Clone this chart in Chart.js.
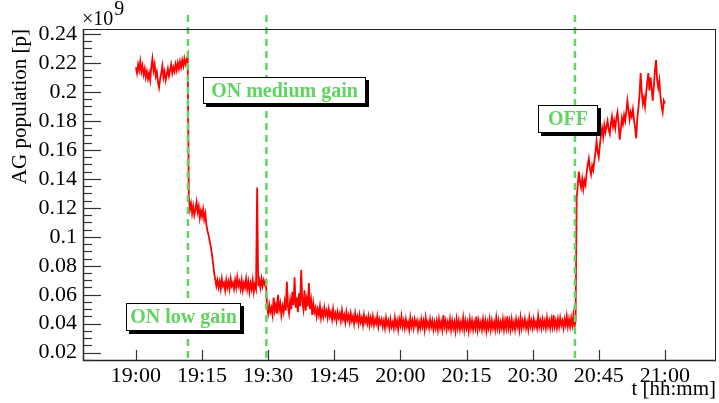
<!DOCTYPE html>
<html>
<head>
<meta charset="utf-8">
<title>AG population</title>
<script src="https://cdn.jsdelivr.net/npm/chart.js@4"></script>
<style>
    html, body { margin: 0; padding: 0; background: #fff; }
</style>
</head>
<body>
<canvas id="ag-chart" width="719" height="403"></canvas>
<script>
(function () {
    'use strict';

    /* ── Samples: AG population in units of 1e9 p, one every 15 s (minutes after 19:00) ── */
    var stepMin = 0.25;

    var preOnStart = 0;
    var preOnValues = [
        0.217, 0.213, 0.219, 0.215, 0.221, 0.214, 0.218, 0.212, 0.216, 0.210,
        0.214, 0.209, 0.213, 0.208, 0.217, 0.223, 0.215, 0.219, 0.211, 0.214,
        0.207, 0.203, 0.209, 0.213, 0.218, 0.210, 0.214, 0.208, 0.212, 0.216,
        0.211, 0.215, 0.219, 0.213, 0.217, 0.214, 0.219, 0.215, 0.220, 0.216,
        0.221, 0.217, 0.222, 0.218, 0.223, 0.219, 0.222, 0.225
    ];

    var lowGainStart = 12;
    var lowGainValues = [
        0.128, 0.119, 0.123, 0.116, 0.121, 0.115, 0.119, 0.124, 0.117, 0.121,
        0.113, 0.118, 0.114, 0.119, 0.112, 0.116, 0.108, 0.104, 0.101, 0.097,
        0.093, 0.088, 0.082, 0.075, 0.071, 0.066, 0.070, 0.065, 0.069, 0.064,
        0.071, 0.066, 0.068, 0.063, 0.070, 0.065, 0.069, 0.064, 0.071, 0.066,
        0.068, 0.064, 0.070, 0.065, 0.072, 0.066, 0.069, 0.064, 0.070, 0.063,
        0.068, 0.065, 0.071, 0.064, 0.069, 0.062, 0.068, 0.064, 0.070, 0.062,
        0.067, 0.064, 0.134, 0.066, 0.070, 0.065, 0.071, 0.066, 0.070, 0.067,
        0.069
    ];

    var mediumGainStart = 29.75;
    var mediumGainValues = [
        0.052, 0.047, 0.053, 0.048, 0.051, 0.046, 0.058, 0.049, 0.053, 0.047,
        0.060, 0.050, 0.054, 0.046, 0.052, 0.048, 0.055, 0.049, 0.069, 0.052,
        0.047, 0.056, 0.050, 0.062, 0.053, 0.072, 0.051, 0.058, 0.048, 0.061,
        0.052, 0.077, 0.055, 0.050, 0.063, 0.049, 0.057, 0.052, 0.068, 0.050,
        0.056, 0.046, 0.054, 0.048,
        0.051, 0.045, 0.050, 0.046, 0.052, 0.044, 0.049, 0.045, 0.051, 0.046,
        0.049, 0.044, 0.050, 0.045, 0.048, 0.043, 0.050, 0.044, 0.047, 0.042,
        0.048, 0.044, 0.047, 0.042, 0.049, 0.043, 0.046, 0.041, 0.048, 0.043,
        0.046, 0.041, 0.047, 0.042, 0.045, 0.040, 0.047, 0.042, 0.045, 0.040,
        0.046, 0.041, 0.044, 0.039, 0.046, 0.041, 0.044, 0.040, 0.045, 0.039,
        0.044, 0.040, 0.045, 0.039, 0.043, 0.040, 0.045, 0.038, 0.043, 0.040,
        0.043, 0.038, 0.042, 0.037, 0.044, 0.039, 0.042, 0.037, 0.043, 0.038,
        0.041, 0.037, 0.044, 0.038, 0.042, 0.036, 0.043, 0.039, 0.045, 0.038,
        0.042, 0.037, 0.043, 0.038, 0.041, 0.036, 0.044, 0.038, 0.042, 0.037,
        0.043, 0.039, 0.042, 0.036, 0.041, 0.037, 0.043, 0.038, 0.042, 0.036,
        0.044, 0.038, 0.041, 0.037, 0.043, 0.038, 0.042, 0.036, 0.041, 0.037,
        0.042, 0.036, 0.043, 0.037, 0.041, 0.036, 0.046, 0.038, 0.042, 0.036,
        0.041, 0.037, 0.043, 0.036, 0.042, 0.037, 0.041, 0.035, 0.043, 0.037,
        0.042, 0.036, 0.041, 0.037, 0.044, 0.036, 0.042, 0.037, 0.041, 0.035,
        0.043, 0.037, 0.042, 0.036, 0.041, 0.037, 0.045, 0.036, 0.042, 0.037,
        0.041, 0.036, 0.043, 0.037, 0.042, 0.035, 0.041, 0.037, 0.043, 0.036,
        0.042, 0.037, 0.041, 0.036, 0.044, 0.037, 0.042, 0.036, 0.041, 0.037,
        0.043, 0.036, 0.042, 0.037, 0.045, 0.037, 0.042, 0.036, 0.043, 0.037,
        0.041, 0.036, 0.043, 0.038, 0.042, 0.036, 0.044, 0.037, 0.042, 0.038,
        0.043, 0.037, 0.041, 0.036, 0.044, 0.038, 0.042, 0.037, 0.043, 0.038,
        0.041, 0.037, 0.045, 0.038, 0.042, 0.037, 0.043, 0.038, 0.042, 0.037,
        0.044, 0.038, 0.042, 0.037, 0.043, 0.038, 0.046, 0.038, 0.042, 0.037,
        0.043, 0.038, 0.044, 0.039, 0.042, 0.037, 0.043, 0.039, 0.045, 0.038,
        0.043, 0.038, 0.044, 0.039, 0.046, 0.038, 0.042
    ];

    var offStart = 100;
    var offValues = [
        0.127, 0.136, 0.145, 0.138, 0.134, 0.140, 0.133, 0.139, 0.136, 0.144,
        0.150, 0.154, 0.147, 0.143, 0.149, 0.146, 0.152, 0.158, 0.166, 0.159,
        0.155, 0.163, 0.170, 0.175, 0.169, 0.177, 0.172, 0.176, 0.180, 0.174,
        0.171, 0.178, 0.183, 0.176, 0.180, 0.175, 0.182, 0.186, 0.178, 0.167,
        0.174, 0.182, 0.178, 0.184, 0.180, 0.186, 0.194, 0.188, 0.181, 0.186,
        0.183, 0.188, 0.181, 0.175, 0.168, 0.182, 0.189, 0.198, 0.213, 0.200,
        0.192, 0.196, 0.190, 0.199, 0.207, 0.213, 0.201, 0.210, 0.203, 0.194,
        0.204, 0.215, 0.222, 0.208, 0.203, 0.208, 0.197, 0.190, 0.186, 0.194,
        0.192
    ];

    /* ── Gain switching times (minutes after 19:00) ── */
    var switchTimes = [11.8, 29.6, 99.6];

    /* ── Axis ticks ── */
    var timeTicks = [0, 15, 30, 45, 60, 75, 90, 105, 120];
    var timeTickLabels = ['19:00', '19:15', '19:30', '19:45', '20:00', '20:15', '20:30', '20:45', '21:00'];
    var popTicks = [0.02, 0.04, 0.06, 0.08, 0.1, 0.12, 0.14, 0.16, 0.18, 0.2, 0.22, 0.24];

    /* ── Label panes, corners given in axis units ── */
    var panes = [
        { text: 'ON low gain',    x0: -2.27, x1: 23.82, y0: 0.0543, y1: 0.0350 },
        { text: 'ON medium gain', x0: 15.2,  x1: 52.18, y0: 0.2103, y1: 0.1917 },
        { text: 'OFF',            x0: 91.2,  x1: 104.8, y0: 0.1910, y1: 0.1717 }
    ];

    var serif = '"Liberation Serif", "Times New Roman", serif';
    var green = 'rgb(96, 212, 96)';

    function toPoints(start, values) {
        return values.map(function (v, i) { return { x: start + i * stepMin, y: v }; });
    }

    var points = []
        .concat(toPoints(preOnStart, preOnValues))
        .concat(toPoints(lowGainStart, lowGainValues))
        .concat(toPoints(mediumGainStart, mediumGainValues))
        .concat(toPoints(offStart, offValues));

    /* ── ROOT-like frame, inward ticks, switch markers and panes ── */
    var rootFrame = {
        id: 'rootFrame',
        afterDatasetsDraw: function (chart) {
            var ctx = chart.ctx;
            var area = chart.chartArea;
            var xs = chart.scales.x;
            var ys = chart.scales.y;

            ctx.save();

            // dashed switch markers
            ctx.strokeStyle = green;
            ctx.lineWidth = 2.5;
            ctx.setLineDash([7, 5]);
            switchTimes.forEach(function (t) {
                var px = xs.getPixelForValue(t);
                ctx.beginPath();
                ctx.moveTo(px, area.top - 14);
                ctx.lineTo(px, area.bottom);
                ctx.stroke();
            });
            ctx.setLineDash([]);

            // frame
            ctx.strokeStyle = '#222';
            ctx.lineWidth = 1;
            ctx.strokeRect(area.left + 0.5, area.top + 0.5, area.right - area.left - 1, area.bottom - area.top);
            ctx.lineWidth = 1.5;
            ctx.beginPath();
            ctx.moveTo(area.left + 0.5, area.top);
            ctx.lineTo(area.left + 0.5, area.bottom + 0.5);
            ctx.lineTo(area.right, area.bottom + 0.5);
            ctx.stroke();

            // y ticks, major and minor, pointing inward
            ctx.lineWidth = 1.2;
            ctx.strokeStyle = '#333';
            for (var m = 3; m <= 48; m++) {
                var v = m * 0.005;
                if (v < ys.min || v > ys.max) continue;
                var py = Math.round(ys.getPixelForValue(v)) + 0.5;
                var len = (m % 4 === 0) ? 18 : 9;
                ctx.beginPath();
                ctx.moveTo(area.left, py);
                ctx.lineTo(area.left + len, py);
                ctx.stroke();
            }

            // x ticks
            timeTicks.forEach(function (t) {
                var px = Math.round(xs.getPixelForValue(t)) + 0.5;
                ctx.beginPath();
                ctx.moveTo(px, area.bottom);
                ctx.lineTo(px, area.bottom - 10);
                ctx.stroke();
            });

            // label panes with shadow
            ctx.font = 'bold 20px ' + serif;
            ctx.textAlign = 'center';
            ctx.textBaseline = 'middle';
            panes.forEach(function (p) {
                var l = Math.round(xs.getPixelForValue(p.x0));
                var r = Math.round(xs.getPixelForValue(p.x1));
                var t = Math.round(ys.getPixelForValue(p.y0));
                var b = Math.round(ys.getPixelForValue(p.y1));
                ctx.fillStyle = '#000';
                ctx.fillRect(l + 3, t + 3, r - l, b - t);
                ctx.fillStyle = '#fff';
                ctx.fillRect(l, t, r - l, b - t);
                ctx.strokeStyle = '#000';
                ctx.lineWidth = 1;
                ctx.strokeRect(l + 0.5, t + 0.5, r - l - 1, b - t - 1);
                ctx.fillStyle = green;
                ctx.fillText(p.text, (l + r) / 2, (t + b) / 2 + 1);
            });

            // exponent of the y axis
            ctx.fillStyle = '#000';
            ctx.textAlign = 'left';
            ctx.textBaseline = 'alphabetic';
            ctx.font = '20px ' + serif;
            ctx.fillText('\u00d710', area.left - 1, 25);
            var w = ctx.measureText('\u00d710').width;
            ctx.fillText('9', area.left + w, 15);

            ctx.restore();
        }
    };

    var tickFont = { family: serif, size: 22 };

    new Chart(document.getElementById('ag-chart'), {
        type: 'line',
        data: {
            datasets: [{
                label: 'AG population',
                data: points,
                borderColor: '#ff0000',
                borderWidth: 1.8,
                pointRadius: 0,
                tension: 0,
                fill: false
            }]
        },
        options: {
            responsive: false,
            animation: false,
            devicePixelRatio: 1,
            layout: { padding: { top: 29, right: 3, bottom: 0, left: 0 } },
            plugins: {
                legend: { display: false },
                tooltip: { enabled: false }
            },
            scales: {
                x: {
                    type: 'linear',
                    min: -12,
                    max: 131.6,
                    bounds: 'data',
                    afterFit: function (scale) { scale.height = 43; },
                    afterBuildTicks: function (scale) {
                        scale.ticks = timeTicks.map(function (t) { return { value: t }; });
                    },
                    grid: { display: false, drawTicks: false },
                    border: { display: false },
                    ticks: {
                        autoSkip: false,
                        maxRotation: 0,
                        padding: 3,
                        color: '#000',
                        font: tickFont,
                        callback: function (value, index) { return timeTickLabels[index]; }
                    },
                    title: {
                        display: true,
                        text: 't [hh:mm]',
                        align: 'end',
                        color: '#000',
                        font: { family: serif, size: 21 },
                        padding: { top: 0, bottom: 1 }
                    }
                },
                y: {
                    min: 0.01494,
                    max: 0.24345,
                    bounds: 'data',
                    afterFit: function (scale) { scale.width = 83; },
                    afterBuildTicks: function (scale) {
                        scale.ticks = popTicks.map(function (v) { return { value: v }; });
                    },
                    grid: { display: false, drawTicks: false },
                    border: { display: false },
                    ticks: {
                        padding: 6,
                        color: '#000',
                        font: tickFont,
                        callback: function (value) { return String(+value.toFixed(2)); }
                    },
                    title: {
                        display: true,
                        text: 'AG population [p]',
                        align: 'end',
                        color: '#000',
                        font: { family: serif, size: 21 },
                        padding: { top: 8, bottom: 0 }
                    }
                }
            }
        },
        plugins: [rootFrame]
    });
})();
</script>
</body>
</html>
